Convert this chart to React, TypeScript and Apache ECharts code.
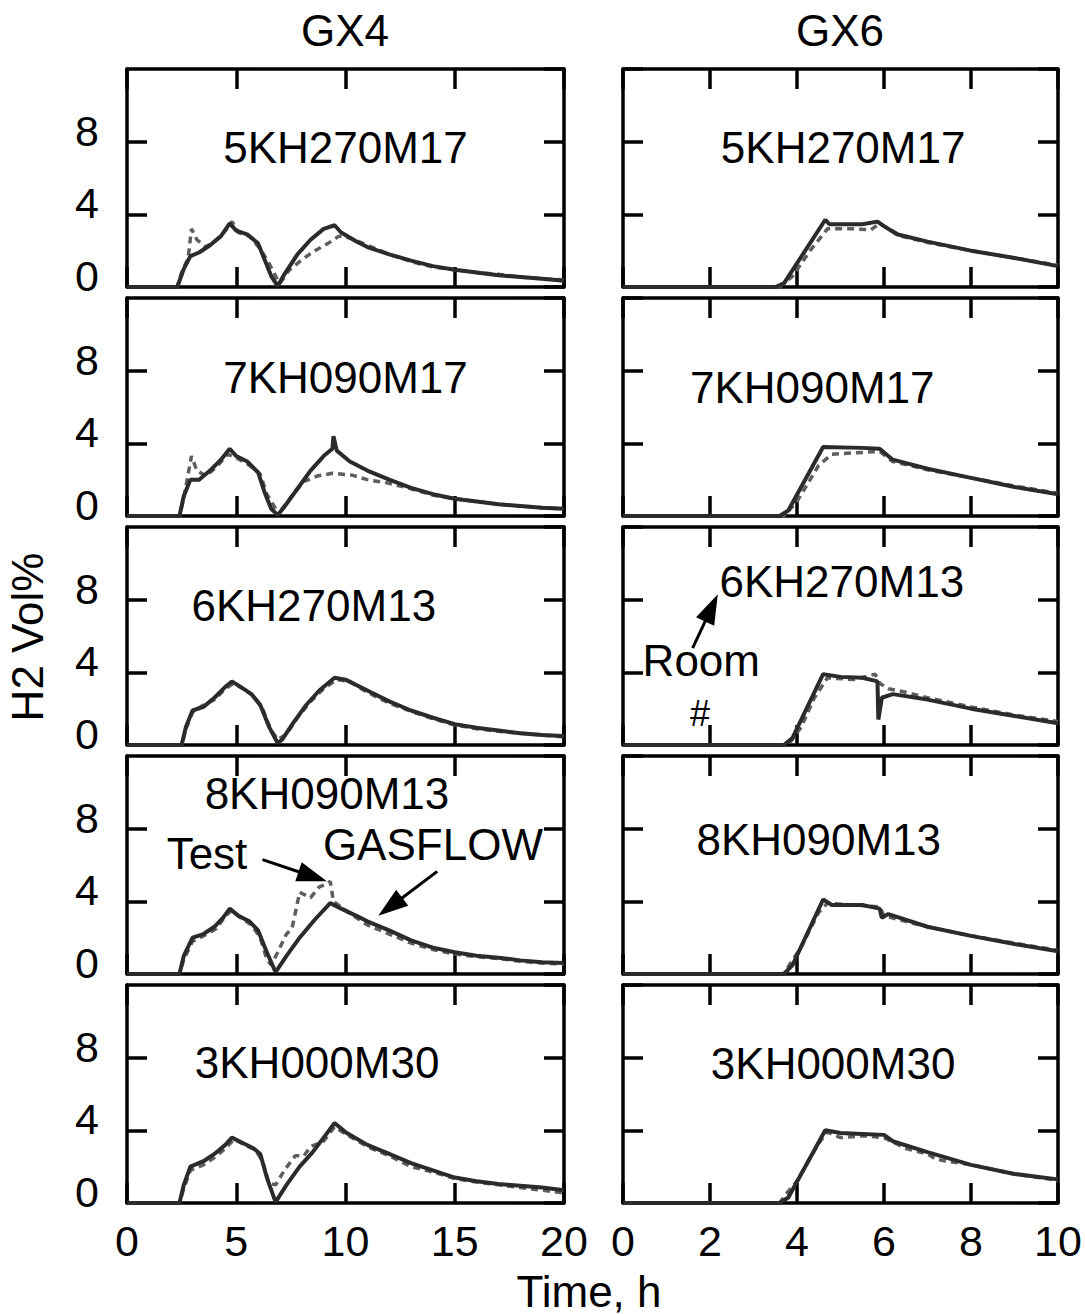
import React, { useEffect, useRef } from 'react';
import * as echarts from 'echarts';

const FONT = '"Liberation Sans", Arial, Helvetica, sans-serif';

// ---------- axis scales ----------
const GX4_X_MAX = 20;
const GX4_X_STEP = 5;
const GX6_X_MAX = 10;
const GX6_X_STEP = 2;
const Y_MAX = 12;
const Y_STEP = 4;

// ---------- case names (rows) ----------
const CASE_NAMES = ['5KH270M17', '7KH090M17', '6KH270M13', '8KH090M13', '3KH000M30'];

// ---------- GX4 data [time h, H2 vol%] ----------
const GX4_5KH270M17_SIM = [[0,0],[2.3,0],[2.6,1.0],[2.9,1.7],[3.3,1.9],[3.8,2.3],[4.3,2.8],[4.7,3.5],[5.0,3.1],[5.5,2.9],[6.0,2.4],[6.3,1.5],[6.6,0.6],[6.9,0.05],[7.2,0.7],[7.8,1.8],[8.4,2.6],[9.0,3.2],[9.5,3.4],[9.8,3.0],[10.5,2.5],[11,2.2],[12,1.8],[13,1.45],[14,1.15],[15,0.95],[16,0.8],[17,0.65],[18,0.55],[19,0.45],[20,0.35]];
const GX4_5KH270M17_TEST = [[0,0],[2.3,0],[2.5,0.8],[2.8,1.6],[2.95,3.2],[3.2,2.6],[3.6,2.2],[4.1,2.6],[4.5,3.1],[4.8,3.6],[5.1,3.0],[5.6,2.8],[6.1,2.1],[6.5,1.3],[6.8,0.6],[7.0,0.2],[7.4,0.9],[8.0,1.5],[8.6,2.0],[9.2,2.4],[9.7,2.8],[10.2,2.7],[11,2.3],[12,1.8],[13,1.4],[14,1.1],[15,0.95],[16,0.8],[17,0.7],[18,0.55],[19,0.45],[20,0.4]];

const GX4_7KH090M17_SIM = [[0,0],[2.4,0],[2.6,1.1],[2.9,2.0],[3.3,2.0],[3.8,2.5],[4.3,3.1],[4.7,3.7],[5.0,3.3],[5.5,3.0],[6.0,2.4],[6.3,1.3],[6.6,0.4],[6.9,0.05],[7.2,0.5],[7.8,1.5],[8.4,2.5],[9.0,3.3],[9.4,3.7],[9.45,4.4],[9.6,3.6],[10.2,3.0],[11,2.5],[12,2.0],[13,1.55],[14,1.2],[15,0.95],[16,0.8],[17,0.65],[18,0.55],[19,0.45],[20,0.4]];
const GX4_7KH090M17_TEST = [[0,0],[2.4,0],[2.6,1.0],[2.95,3.3],[3.2,2.5],[3.6,2.2],[4.1,2.7],[4.6,3.4],[5.0,3.2],[5.6,2.8],[6.1,2.3],[6.4,1.2],[6.8,0.4],[7.1,0.4],[7.6,1.2],[8.1,1.9],[8.7,2.2],[9.4,2.35],[10.3,2.25],[11,2.0],[12,1.8],[13,1.5],[14,1.15],[15,0.95],[16,0.8],[17,0.65],[18,0.55],[19,0.45],[20,0.4]];

const GX4_6KH270M13_SIM = [[0,0],[2.5,0],[2.7,1.0],[3.0,1.9],[3.5,2.1],[4.0,2.6],[4.5,3.2],[4.8,3.5],[5.2,3.2],[5.7,2.8],[6.1,2.2],[6.5,1.0],[6.9,0.1],[7.1,0.3],[7.6,1.2],[8.2,2.2],[8.8,3.0],[9.5,3.7],[10,3.6],[11,3.0],[12,2.4],[13,1.9],[14,1.5],[15,1.15],[16,0.95],[17,0.8],[18,0.65],[19,0.55],[20,0.5]];
const GX4_6KH270M13_TEST = [[0,0],[2.5,0],[2.7,0.9],[3.0,1.8],[3.5,2.2],[4.0,2.5],[4.5,3.1],[4.9,3.4],[5.3,3.1],[5.8,2.7],[6.2,2.0],[6.6,0.8],[6.9,0.3],[7.3,0.6],[7.8,1.5],[8.4,2.4],[9.0,3.1],[9.6,3.6],[10.2,3.5],[11,2.9],[12,2.3],[13,1.85],[14,1.45],[15,1.1],[16,0.9],[17,0.75],[18,0.65],[19,0.55],[20,0.45]];

const GX4_8KH090M13_SIM = [[0,0],[2.4,0],[2.6,1.0],[3.0,2.0],[3.5,2.2],[4.0,2.6],[4.4,3.1],[4.7,3.6],[5.1,3.2],[5.6,2.9],[6.0,2.4],[6.4,1.2],[6.8,0.1],[7.3,1.0],[7.9,2.0],[8.6,3.0],[9.3,3.9],[9.8,3.6],[10.5,3.2],[11,2.9],[12,2.4],[13,1.85],[14,1.45],[15,1.2],[16,1.0],[17,0.9],[18,0.75],[19,0.65],[20,0.6]];
const GX4_8KH090M13_TEST = [[0,0],[2.4,0],[2.6,0.8],[3.0,1.8],[3.5,2.1],[4.1,2.5],[4.5,3.2],[4.8,3.5],[5.2,3.1],[5.7,2.7],[6.1,2.0],[6.4,0.8],[6.6,0.5],[6.9,1.2],[7.3,2.2],[7.55,2.5],[7.9,4.5],[8.4,4.2],[8.8,4.8],[9.15,4.95],[9.3,5.1],[9.45,4.0],[10,3.5],[11,2.7],[12,2.2],[13,1.7],[14,1.35],[15,1.1],[16,0.95],[17,0.85],[18,0.7],[19,0.6],[20,0.55]];

const GX4_3KH000M30_SIM = [[0,0],[2.4,0],[2.6,1.0],[2.9,2.0],[3.5,2.3],[4.0,2.7],[4.5,3.2],[4.8,3.6],[5.3,3.3],[5.8,3.0],[6.1,2.7],[6.4,1.4],[6.8,0.05],[7.3,1.0],[7.9,2.0],[8.5,2.8],[9.0,3.6],[9.5,4.4],[10,3.9],[11,3.2],[12,2.7],[13,2.2],[14,1.8],[15,1.4],[16,1.2],[17,1.05],[18,0.95],[19,0.85],[20,0.7]];
const GX4_3KH000M30_TEST = [[0,0],[2.4,0],[2.6,0.8],[2.9,1.8],[3.5,2.1],[4.0,2.5],[4.5,3.0],[4.9,3.5],[5.4,3.2],[5.9,2.9],[6.2,2.3],[6.5,1.1],[6.8,1.0],[7.2,1.8],[7.7,2.6],[8.1,2.6],[8.4,3.1],[9.0,3.4],[9.5,4.2],[10,3.8],[11,3.1],[12,2.6],[13,2.0],[14,1.7],[15,1.35],[16,1.15],[17,1.0],[18,0.85],[19,0.7],[20,0.55]];

// ---------- GX6 data [time h, H2 vol%] ----------
const GX6_5KH270M17_SIM = [[0,0],[3.5,0],[3.7,0.2],[4.65,3.7],[4.75,3.45],[5.5,3.45],[5.85,3.6],[6.0,3.35],[6.3,2.9],[7,2.5],[8,2.0],[9,1.6],[10,1.15]];
const GX6_5KH270M17_TEST = [[0,0],[3.6,0],[3.9,0.6],[4.3,2.0],[4.7,3.2],[5.3,3.2],[5.7,3.15],[5.9,3.5],[6.1,3.2],[6.4,2.8],[7,2.45],[8,2.0],[9,1.6],[10,1.2]];

const GX6_7KH090M17_SIM = [[0,0],[3.6,0],[3.8,0.3],[4.6,3.8],[5.5,3.75],[5.9,3.7],[6.2,3.1],[7,2.6],[8,2.1],[9,1.6],[10,1.2]];
const GX6_7KH090M17_TEST = [[0,0],[3.7,0],[4.0,0.8],[4.5,2.8],[4.8,3.4],[5.5,3.5],[5.9,3.55],[6.2,3.0],[7,2.55],[8,2.1],[9,1.65],[10,1.25]];

const GX6_6KH270M13_SIM = [[0,0],[3.7,0],[3.9,0.4],[4.6,3.9],[5.0,3.75],[5.5,3.7],[5.85,3.5],[5.87,1.4],[5.95,2.6],[6.2,2.8],[7,2.5],[8,2.0],[9,1.6],[10,1.2]];
const GX6_6KH270M13_TEST = [[0,0],[3.8,0],[4.1,1.0],[4.4,2.6],[4.7,3.7],[5.3,3.6],[5.8,3.9],[5.9,3.4],[6.1,3.1],[6.5,2.9],[7,2.6],[8,2.1],[9,1.65],[10,1.3]];

const GX6_8KH090M13_SIM = [[0,0],[3.7,0],[3.9,0.5],[4.6,4.1],[4.8,3.8],[5.5,3.8],[5.9,3.6],[5.95,3.1],[6.1,3.3],[7,2.6],[8,2.1],[9,1.65],[10,1.25]];
const GX6_8KH090M13_TEST = [[0,0],[3.7,0],[3.8,0.4],[4.1,1.5],[4.5,3.4],[4.7,3.9],[5.3,3.8],[5.9,3.7],[6.0,3.2],[6.4,2.95],[7,2.6],[8,2.1],[9,1.7],[10,1.3]];

const GX6_3KH000M30_SIM = [[0,0],[3.6,0],[3.8,0.3],[4.65,4.0],[5.0,3.85],[5.5,3.8],[6.0,3.75],[6.2,3.4],[7,2.8],[8,2.1],[9,1.6],[10,1.3]];
const GX6_3KH000M30_TEST = [[0,0],[3.6,0],[3.75,0.5],[4.0,1.2],[4.5,3.3],[4.7,3.9],[5.0,3.6],[5.5,3.7],[6.0,3.6],[6.5,3.0],[7,2.7],[7.2,2.4],[8,2.1],[9,1.6],[10,1.25]];

const GX4_SIM = [GX4_5KH270M17_SIM, GX4_7KH090M17_SIM, GX4_6KH270M13_SIM, GX4_8KH090M13_SIM, GX4_3KH000M30_SIM];
const GX4_TEST = [GX4_5KH270M17_TEST, GX4_7KH090M17_TEST, GX4_6KH270M13_TEST, GX4_8KH090M13_TEST, GX4_3KH000M30_TEST];
const GX6_SIM = [GX6_5KH270M17_SIM, GX6_7KH090M17_SIM, GX6_6KH270M13_SIM, GX6_8KH090M13_SIM, GX6_3KH000M30_SIM];
const GX6_TEST = [GX6_5KH270M17_TEST, GX6_7KH090M17_TEST, GX6_6KH270M13_TEST, GX6_8KH090M13_TEST, GX6_3KH000M30_TEST];

// ---------- layout (pixels) ----------
const COL_LEFT = [127, 623];
const COL_WIDTH = [437, 435];
const ROW_TOP = [69, 298, 527, 756, 985];
const ROW_HEIGHT = 218;

// case-label anchor positions in data coordinates, per column
const LABEL_POS_GX4 = [[10, 7.7], [10, 7.6], [8.55, 7.7], [9.15, 9.95], [8.7, 7.75]];
const LABEL_POS_GX6 = [[5.06, 7.7], [4.35, 7.1], [5.03, 9.0], [4.5, 7.4], [4.83, 7.7]];

// annotations (grid index = row*2 + col), data coordinates
const ANNOTATIONS = [
  { grid: 6, text: 'Test', at: [3.66, 6.65], from: [6.2, 6.3], to: [9.15, 5.1], size: 44 },
  { grid: 6, text: 'GASFLOW', at: [14.0, 7.15], from: [14.2, 5.65], to: [11.5, 3.2], size: 44 },
  { grid: 5, text: 'Room', at: [1.8, 4.67], from: [1.6, 5.33], to: [2.18, 8.3], size: 44 },
  { grid: 5, text: '#', at: [1.77, 1.76], from: null, to: null, size: 36 },
];

const LINE_SOLID = '#2b2b2b';
const LINE_DASH = '#5e5e5e';

function buildOption() {
  const grid: any[] = [];
  const xAxis: any[] = [];
  const yAxis: any[] = [];
  const series: any[] = [];
  for (let row = 0; row < 5; row++) {
    for (let col = 0; col < 2; col++) {
      const i = row * 2 + col;
      grid.push({ left: COL_LEFT[col], top: ROW_TOP[row], width: COL_WIDTH[col], height: ROW_HEIGHT, containLabel: false });
      const xmax = col === 0 ? GX4_X_MAX : GX6_X_MAX;
      const xstep = col === 0 ? GX4_X_STEP : GX6_X_STEP;
      const axisLine = { show: true, onZero: false, lineStyle: { color: '#000', width: 3.5 } };
      const axisTick = { show: true, inside: true, length: 20, lineStyle: { color: '#000', width: 3.5 } };
      xAxis.push({
        type: 'value', gridIndex: i, position: 'bottom', min: 0, max: xmax, interval: xstep,
        axisLine, axisTick, splitLine: { show: false },
        axisLabel: { show: row === 4, fontSize: 43, color: '#000', fontFamily: FONT, margin: 16 },
      });
      xAxis.push({
        type: 'value', gridIndex: i, position: 'top', min: 0, max: xmax, interval: xstep,
        axisLine, axisTick, splitLine: { show: false }, axisLabel: { show: false },
      });
      yAxis.push({
        type: 'value', gridIndex: i, position: 'left', min: 0, max: Y_MAX, interval: Y_STEP,
        axisLine, axisTick, splitLine: { show: false },
        axisLabel: {
          show: col === 0, fontSize: 43, color: '#000', fontFamily: FONT, margin: 28,
          showMaxLabel: false, verticalAlign: 'bottom', lineHeight: 22,
          formatter: (v: number) => (v >= Y_MAX ? '' : String(v)),
        },
      });
      yAxis.push({
        type: 'value', gridIndex: i, position: 'right', min: 0, max: Y_MAX, interval: Y_STEP,
        axisLine, axisTick, splitLine: { show: false }, axisLabel: { show: false },
      });
      const sim = col === 0 ? GX4_SIM[row] : GX6_SIM[row];
      const test = col === 0 ? GX4_TEST[row] : GX6_TEST[row];
      series.push({
        type: 'line', xAxisIndex: 2 * i, yAxisIndex: 2 * i, data: sim, showSymbol: false, symbol: 'none',
        lineStyle: { color: LINE_SOLID, width: 4 }, z: 3,
      });
      series.push({
        type: 'line', xAxisIndex: 2 * i, yAxisIndex: 2 * i, data: test, showSymbol: false, symbol: 'none',
        lineStyle: { color: LINE_DASH, width: 3.5, type: [7, 5] }, z: 2,
      });
    }
  }
  return {
    animation: false,
    backgroundColor: '#fff',
    grid, xAxis, yAxis, series,
  };
}

function arrowElems(p0: number[], p1: number[]) {
  const dx = p1[0] - p0[0];
  const dy = p1[1] - p0[1];
  const len = Math.sqrt(dx * dx + dy * dy);
  const ux = dx / len, uy = dy / len;
  const px = -uy, py = ux;
  const head = 30, half = 10;
  const bx = p1[0] - ux * head, by = p1[1] - uy * head;
  return [
    { type: 'line', shape: { x1: p0[0], y1: p0[1], x2: bx + ux * 4, y2: by + uy * 4 }, style: { stroke: '#000', lineWidth: 3 }, z: 20 },
    {
      type: 'polygon',
      shape: { points: [[p1[0], p1[1]], [bx + px * half, by + py * half], [bx - px * half, by - py * half]] },
      style: { fill: '#000' }, z: 20,
    },
  ];
}

export default function App() {
  const ref = useRef<HTMLDivElement>(null);
  useEffect(() => {
    if (!ref.current) return;
    const chart = echarts.init(ref.current, undefined, { renderer: 'svg' });
    chart.setOption(buildOption());

    const g: any[] = [];
    const textStyle = (text: string, size: number) => ({
      text, fontSize: size, fontFamily: FONT, fill: '#000', textAlign: 'center', textVerticalAlign: 'middle',
    });
    // column titles and axis names
    g.push({ type: 'text', x: 345, y: 30, style: textStyle('GX4', 44), z: 20 });
    g.push({ type: 'text', x: 840, y: 30, style: textStyle('GX6', 44), z: 20 });
    g.push({ type: 'text', x: 589, y: 1291, style: textStyle('Time, h', 44), z: 20 });
    g.push({ type: 'text', x: 27, y: 637, rotation: Math.PI / 2, style: textStyle('H2 Vol%', 44), z: 20 });

    // case labels
    for (let row = 0; row < 5; row++) {
      for (let col = 0; col < 2; col++) {
        const i = row * 2 + col;
        const pos = col === 0 ? LABEL_POS_GX4[row] : LABEL_POS_GX6[row];
        const p = chart.convertToPixel({ seriesIndex: 2 * i }, pos) as number[];
        g.push({ type: 'text', x: p[0], y: p[1], style: textStyle(CASE_NAMES[row], 44), z: 20 });
      }
    }
    // annotations
    for (const a of ANNOTATIONS) {
      const p = chart.convertToPixel({ seriesIndex: 2 * a.grid }, a.at) as number[];
      g.push({ type: 'text', x: p[0], y: p[1], style: textStyle(a.text, a.size), z: 20 });
      if (a.from && a.to) {
        const p0 = chart.convertToPixel({ seriesIndex: 2 * a.grid }, a.from) as number[];
        const p1 = chart.convertToPixel({ seriesIndex: 2 * a.grid }, a.to) as number[];
        g.push(...arrowElems(p0, p1));
      }
    }
    chart.setOption({ graphic: g });
    return () => chart.dispose();
  }, []);
  return (
    <div
      ref={ref}
      style={{ position: 'absolute', left: 0, top: 0, width: 1085, height: 1314, background: '#fff' }}
    />
  );
}
